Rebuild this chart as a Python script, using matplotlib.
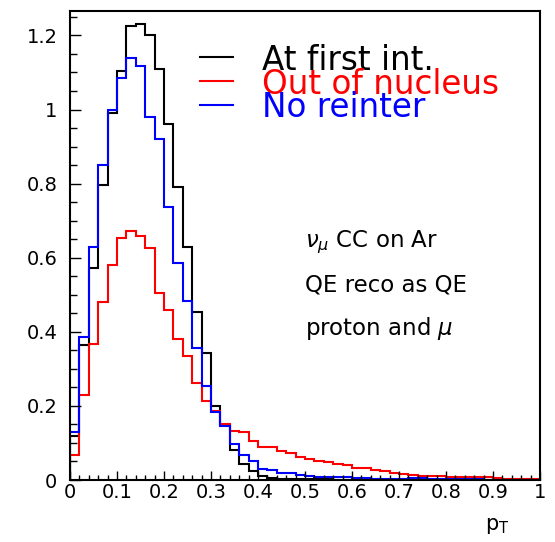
import numpy as np
import matplotlib
matplotlib.use('Agg')
import matplotlib.pyplot as plt
from matplotlib.ticker import MultipleLocator, FormatStrFormatter

plt.rcParams.update({
    "font.family": "DejaVu Sans",
    "mathtext.fontset": "dejavusans"})

# pT histogram, 50 bins of 0.02 between 0 and 1
edges = np.linspace(0.0, 1.0, 51)

at_first_int = [0.120, 0.365, 0.572, 0.795, 0.990, 1.105, 1.225, 1.230, 1.200, 1.110,
                0.960, 0.792, 0.630, 0.453, 0.342, 0.200, 0.148, 0.082, 0.042, 0.024,
                0.010, 0.006, 0.004, 0.003, 0.003, 0.002, 0.002, 0.002, 0.001, 0.001,
                0.001, 0.001, 0.001, 0.001, 0.001, 0.001, 0.001, 0.001, 0.001, 0.001,
                0.000, 0.000, 0.000, 0.000, 0.000, 0.002, 0.000, 0.000, 0.000, 0.000]

out_of_nucleus = [0.068, 0.230, 0.368, 0.480, 0.580, 0.654, 0.672, 0.659, 0.625, 0.505,
                  0.460, 0.380, 0.335, 0.262, 0.213, 0.186, 0.150, 0.133, 0.130, 0.104,
                  0.090, 0.088, 0.077, 0.074, 0.061, 0.058, 0.050, 0.048, 0.042, 0.040,
                  0.033, 0.032, 0.027, 0.025, 0.019, 0.017, 0.013, 0.012, 0.011, 0.010,
                  0.008, 0.008, 0.008, 0.007, 0.007, 0.005, 0.004, 0.003, 0.002, 0.002]

no_reinter = [0.130, 0.386, 0.630, 0.850, 1.000, 1.086, 1.140, 1.118, 0.980, 0.920,
              0.737, 0.585, 0.482, 0.355, 0.253, 0.183, 0.145, 0.097, 0.068, 0.052,
              0.030, 0.028, 0.019, 0.018, 0.013, 0.012, 0.009, 0.009, 0.008, 0.007,
              0.005, 0.005, 0.004, 0.004, 0.003, 0.003, 0.006, 0.006, 0.003, 0.003,
              0.002, 0.002, 0.002, 0.002, 0.001, 0.001, 0.001, 0.001, 0.001, 0.001]

labels = ['At first int.', 'Out of nucleus', 'No reinter']
colors = ['black', 'red', 'blue']
series = [at_first_int, out_of_nucleus, no_reinter]

fig = plt.figure(figsize=(5.55, 5.42), dpi=100)
ax = fig.add_axes([70 / 555, 1 - 480 / 542, 470 / 555, 469 / 542])

for vals, col in zip([at_first_int, out_of_nucleus, no_reinter], colors):
    ax.stairs(vals, edges, baseline=0, color=col, linewidth=1.5)

ax.set_xlim(0, 1)
ax.set_ylim(0, 1.266)

ax.xaxis.set_major_locator(MultipleLocator(0.1))
ax.xaxis.set_minor_locator(MultipleLocator(0.02))
ax.yaxis.set_major_locator(MultipleLocator(0.2))
ax.yaxis.set_minor_locator(MultipleLocator(0.05))
ax.xaxis.set_major_formatter(FormatStrFormatter('%g'))
ax.yaxis.set_major_formatter(FormatStrFormatter('%g'))

ax.tick_params(axis='both', which='both', direction='in', top=False, right=False, width=1.0, labelsize=14)
ax.tick_params(axis='x', which='major', length=6.5, pad=2)
ax.tick_params(axis='x', which='minor', length=3.4)
ax.tick_params(axis='y', which='major', length=7.9, pad=9)
ax.tick_params(axis='y', which='minor', length=4.8)
for sp in ax.spines.values():
    sp.set_linewidth(1.5)

# legend drawn by hand, ROOT style
leg_y = [57, 81, 105]
leg_base = [70, 94, 117]
for lab, col, ly, lb in zip(labels, colors, leg_y, leg_base):
    fig.add_artist(plt.Line2D([200 / 555, 233 / 555], [1 - ly / 542, 1 - ly / 542],
                              color=col, linewidth=1.5, transform=fig.transFigure))
    fig.text(262 / 555, 1 - lb / 542, lab, color=col, fontsize=23.5, va='baseline', ha='left')

fig.text(305 / 555, 1 - 247 / 542, r'$\nu_\mu$ CC on Ar', fontsize=16.5, va='baseline')
fig.text(305 / 555, 1 - 292 / 542, 'QE reco as QE', fontsize=16.5, va='baseline')
fig.text(305 / 555, 1 - 335 / 542, r'proton and $\mu$', fontsize=16.5, va='baseline')

fig.text(485 / 555, 1 - 530 / 542, r'p$_{\mathrm{T}}$', fontsize=15, va='baseline')

plt.savefig('out.png', dpi=100)
